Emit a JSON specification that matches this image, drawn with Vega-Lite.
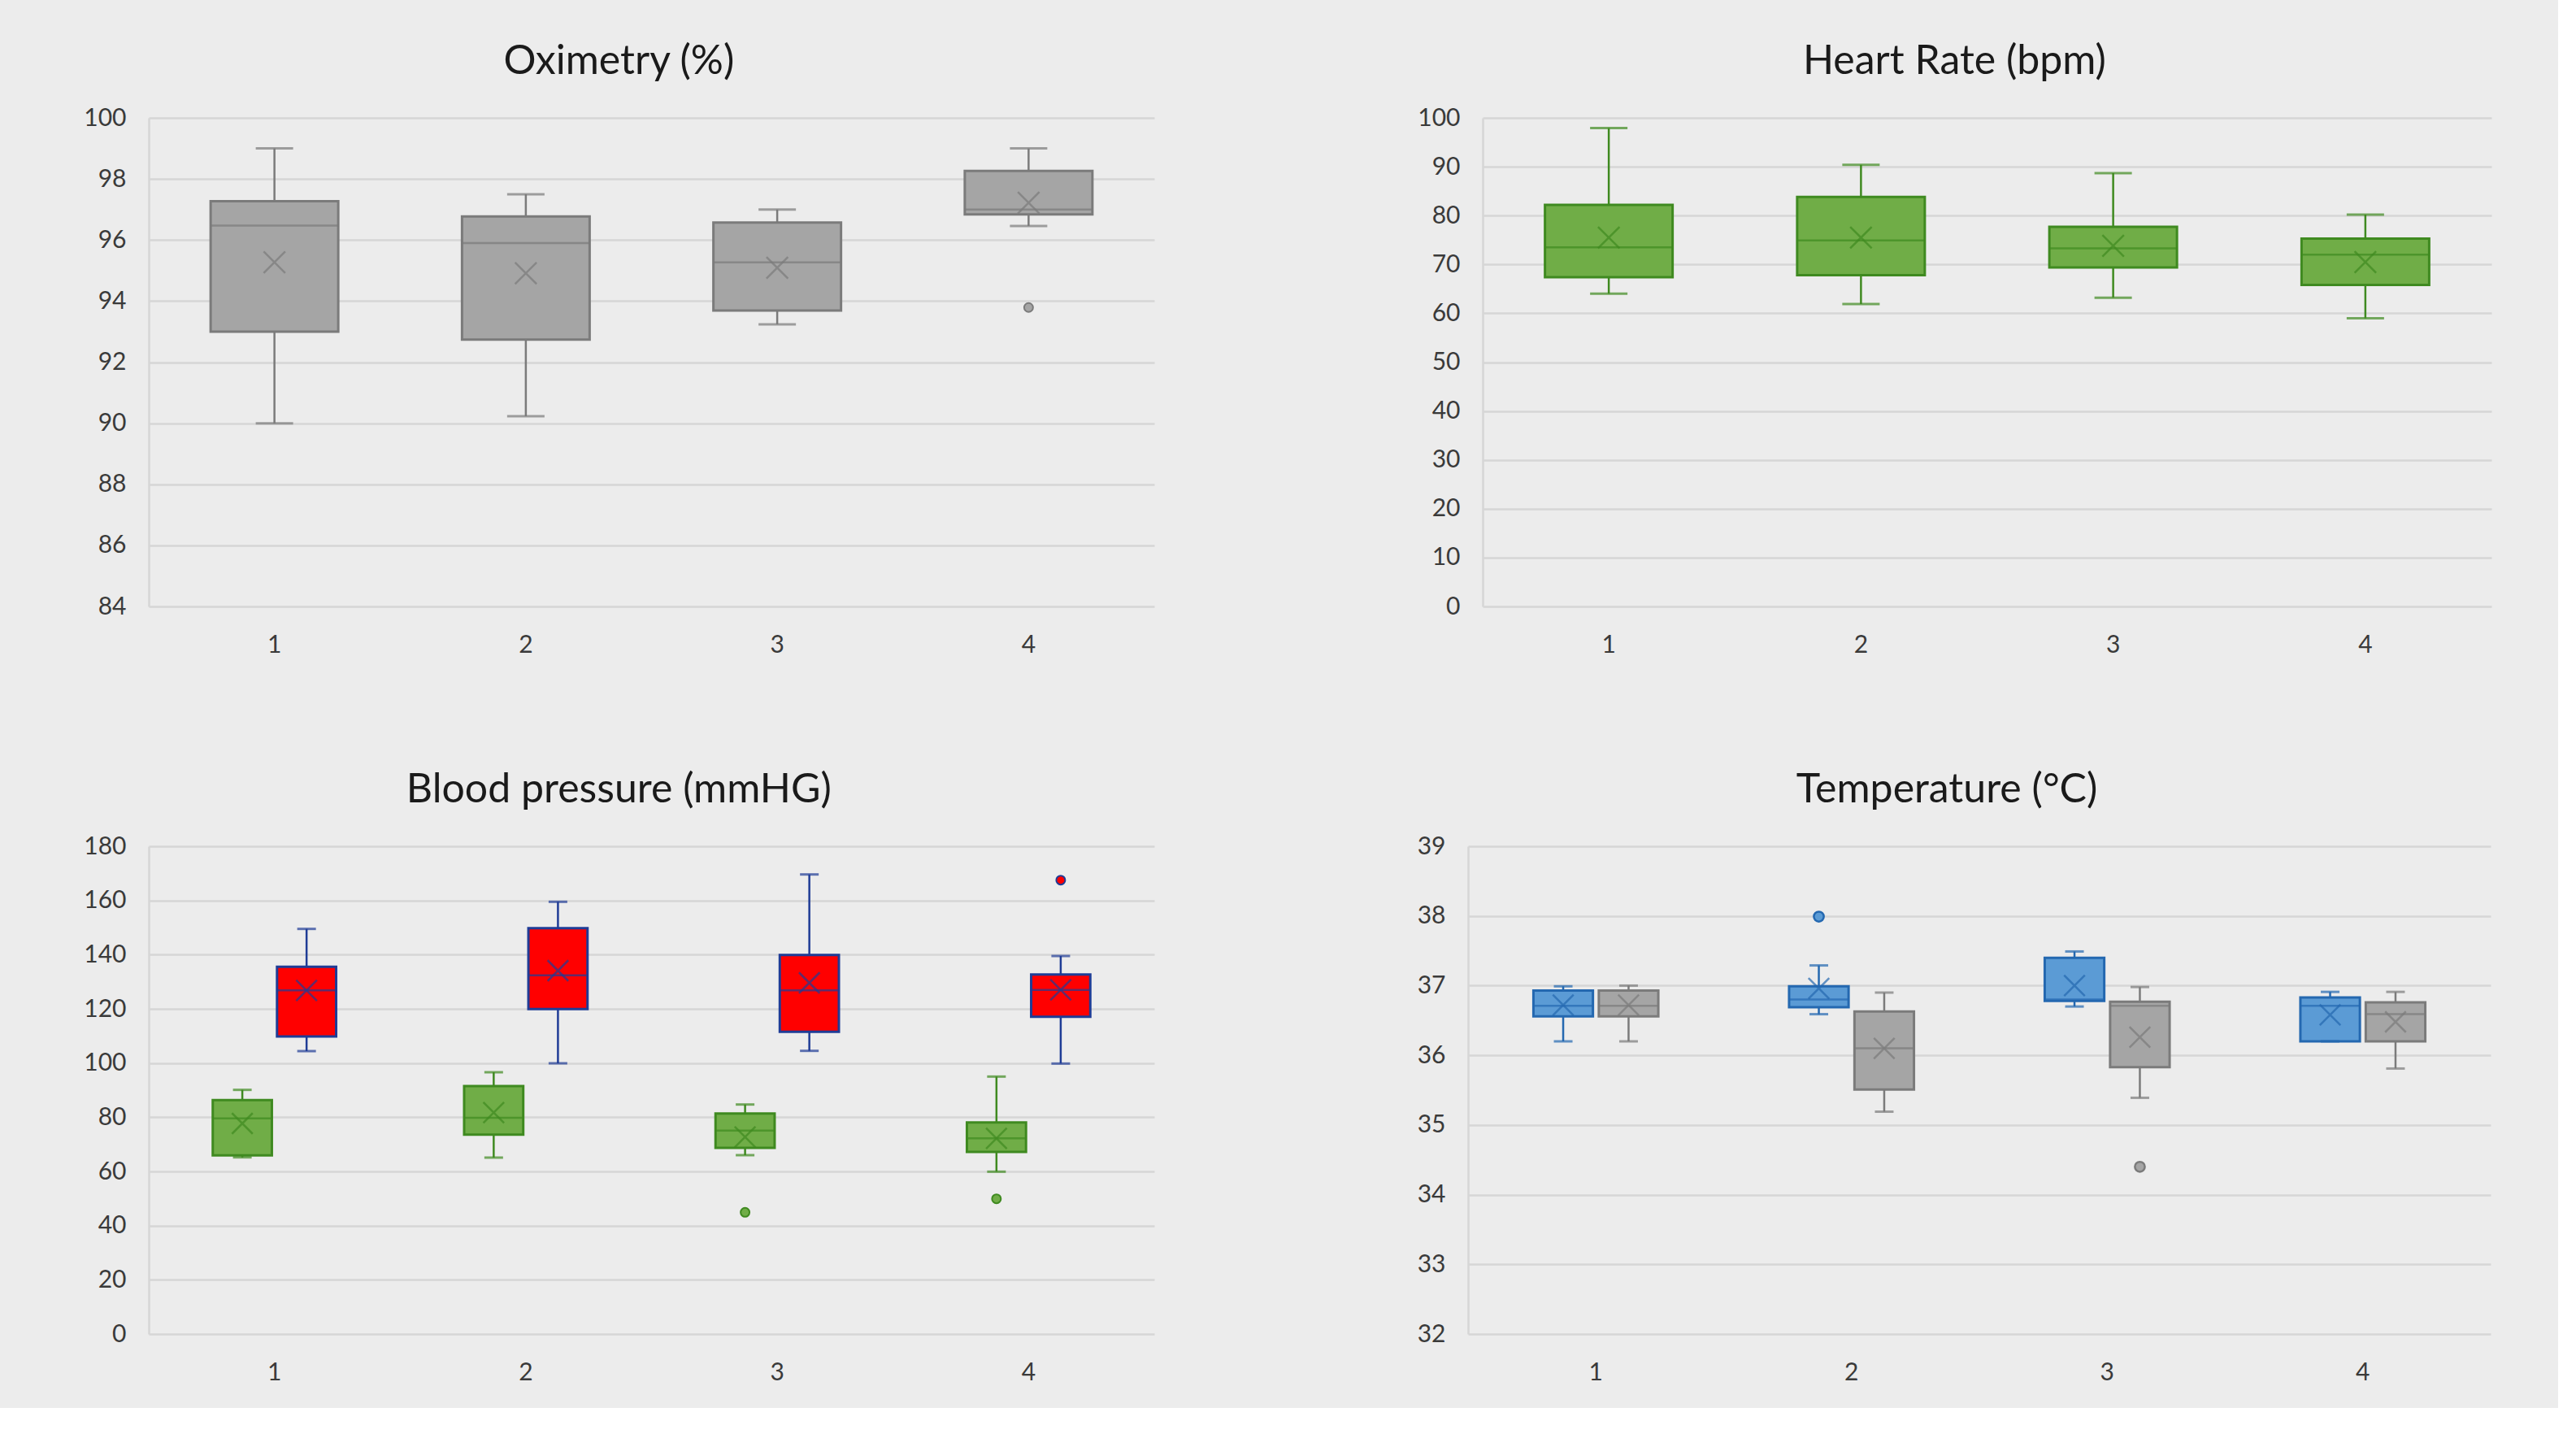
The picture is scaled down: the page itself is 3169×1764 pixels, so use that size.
{
  "$schema": "https://vega.github.io/schema/vega-lite/v6.json",
  "background": "#ececec",
  "padding": {"left": 102, "top": 51, "right": 82, "bottom": 11},
  "config": {
    "view": {"stroke": null},
    "font": "Lato",
    "axis": {"labelFont": "Lato", "labelFontSize": 30, "labelColor": "#3a3a3a", "ticks": false, "tickSize": 0, "domain": false, "gridColor": "#d6d6d6", "gridWidth": 2.5, "labelPadding": 28, "title": null},
    "axisY": {"domain": true, "domainColor": "#d6d6d6", "domainWidth": 2.5, "minExtent": 80, "maxExtent": 80, "grid": true, "format": "d"},
    "axisX": {"grid": false, "labelPadding": 32, "minExtent": 80, "maxExtent": 80, "labelAngle": 0},
    "title": {"font": "Lato", "fontSize": 50, "fontWeight": "normal", "color": "#1a1a1a", "offset": 29, "anchor": "middle", "frame": "bounds"}
  },
  "datasets": {
    "oxi": [
      {"cat": 1, "s": "oxi", "low": 90.0, "q1": 93.0, "med": 96.47, "q3": 97.27, "high": 99.0, "mean": 95.27},
      {"cat": 2, "s": "oxi", "low": 90.23, "q1": 92.74, "med": 95.9, "q3": 96.77, "high": 97.5, "mean": 94.91},
      {"cat": 3, "s": "oxi", "low": 93.24, "q1": 93.69, "med": 95.27, "q3": 96.57, "high": 97.0, "mean": 95.09},
      {"cat": 4, "s": "oxi", "low": 96.46, "q1": 96.84, "med": 97.0, "q3": 98.26, "high": 99.0, "mean": 97.22}
    ],
    "oxiOut": [
      {"cat": 4, "s": "oxi", "value": 93.79}
    ],
    "hr": [
      {"cat": 1, "s": "hr", "low": 64.0, "q1": 67.4, "med": 73.5, "q3": 82.2, "high": 97.9, "mean": 75.5},
      {"cat": 2, "s": "hr", "low": 61.9, "q1": 67.8, "med": 74.9, "q3": 83.8, "high": 90.4, "mean": 75.5},
      {"cat": 3, "s": "hr", "low": 63.2, "q1": 69.4, "med": 73.3, "q3": 77.7, "high": 88.7, "mean": 73.8},
      {"cat": 4, "s": "hr", "low": 59.0, "q1": 65.8, "med": 72.0, "q3": 75.3, "high": 80.2, "mean": 70.5}
    ],
    "bp": [
      {"cat": 1, "s": "dia", "low": 65.2, "q1": 65.9, "med": 79.6, "q3": 86.3, "high": 90.1, "mean": 77.7},
      {"cat": 1, "s": "sys", "low": 104.4, "q1": 109.8, "med": 126.8, "q3": 135.5, "high": 149.5, "mean": 126.8},
      {"cat": 2, "s": "dia", "low": 65.1, "q1": 73.6, "med": 79.8, "q3": 91.5, "high": 96.6, "mean": 81.7},
      {"cat": 2, "s": "sys", "low": 99.9, "q1": 119.9, "med": 132.4, "q3": 149.8, "high": 159.5, "mean": 134.1},
      {"cat": 3, "s": "dia", "low": 66.0, "q1": 68.7, "med": 75.1, "q3": 81.4, "high": 84.7, "mean": 72.7},
      {"cat": 3, "s": "sys", "low": 104.5, "q1": 111.5, "med": 126.8, "q3": 139.9, "high": 169.6, "mean": 129.6},
      {"cat": 4, "s": "dia", "low": 59.9, "q1": 67.2, "med": 72.2, "q3": 78.1, "high": 95.0, "mean": 72.2},
      {"cat": 4, "s": "sys", "low": 99.8, "q1": 117.1, "med": 127.0, "q3": 132.7, "high": 139.5, "mean": 127.0}
    ],
    "bpOut": [
      {"cat": 3, "s": "dia", "value": 44.9},
      {"cat": 4, "s": "dia", "value": 49.9},
      {"cat": 4, "s": "sys", "value": 167.5}
    ],
    "temp": [
      {"cat": 1, "s": "tA", "low": 36.2, "q1": 36.56, "med": 36.71, "q3": 36.93, "high": 36.99, "mean": 36.72},
      {"cat": 1, "s": "tB", "low": 36.2, "q1": 36.56, "med": 36.71, "q3": 36.93, "high": 37.0, "mean": 36.72},
      {"cat": 2, "s": "tA", "low": 36.59, "q1": 36.69, "med": 36.8, "q3": 36.99, "high": 37.29, "mean": 36.96},
      {"cat": 2, "s": "tB", "low": 35.19, "q1": 35.51, "med": 36.1, "q3": 36.63, "high": 36.9, "mean": 36.1},
      {"cat": 3, "s": "tA", "low": 36.7, "q1": 36.78, "med": 36.8, "q3": 37.4, "high": 37.49, "mean": 37.0},
      {"cat": 3, "s": "tB", "low": 35.39, "q1": 35.83, "med": 36.71, "q3": 36.77, "high": 36.98, "mean": 36.26},
      {"cat": 4, "s": "tA", "low": 36.2, "q1": 36.2, "med": 36.71, "q3": 36.83, "high": 36.91, "mean": 36.58},
      {"cat": 4, "s": "tB", "low": 35.81, "q1": 36.2, "med": 36.59, "q3": 36.76, "high": 36.91, "mean": 36.48}
    ],
    "tempOut": [
      {"cat": 2, "s": "tA", "value": 37.99},
      {"cat": 3, "s": "tB", "value": 34.4}
    ]
  },
  "vconcat": [
    {
      "spacing": 323,
      "hconcat": [
        {
          "title": "Oximetry (%)",
          "width": 1237,
          "height": 601,
          "data": {"name": "oxi"},
          "encoding": {
            "x": {"field": "cat", "type": "ordinal", "title": null, "scale": {"paddingInner": 0, "paddingOuter": 0}}
          },
          "layer": [
            {
              "mark": {"type": "rule", "strokeWidth": 2.5},
              "encoding": {
                "y": {"field": "low", "type": "quantitative", "title": null, "scale": {"domain": [84, 100], "nice": false, "zero": false}, "axis": {"values": [84, 86, 88, 90, 92, 94, 96, 98, 100]}},
                "y2": {"field": "high"},
                "color": {"field": "s", "type": "nominal", "legend": null, "scale": {"domain": ["oxi", "hr", "dia", "sys", "tA", "tB"], "range": ["#7b7b7b", "#3f8a20", "#3f8a20", "#1f3c96", "#2468b0", "#7b7b7b"]}}
              }
            },
            {
              "mark": {"type": "bar", "size": 157, "strokeWidth": 3},
              "encoding": {
                "y": {"field": "q1", "type": "quantitative", "title": null},
                "y2": {"field": "q3"},
                "fill": {"field": "s", "type": "nominal", "legend": null, "scale": {"domain": ["oxi", "hr", "dia", "sys", "tA", "tB"], "range": ["#a5a5a5", "#70ad47", "#70ad47", "#ff0000", "#5b9bd5", "#a5a5a5"]}},
                "stroke": {"field": "s", "type": "nominal", "legend": null, "scale": {"domain": ["oxi", "hr", "dia", "sys", "tA", "tB"], "range": ["#7b7b7b", "#3f8a20", "#3f8a20", "#1f3c96", "#2468b0", "#7b7b7b"]}}
              }
            },
            {
              "mark": {"type": "tick", "size": 157, "thickness": 2.5},
              "encoding": {
                "y": {"field": "med", "type": "quantitative", "title": null},
                "color": {"field": "s", "type": "nominal", "legend": null}
              }
            },
            {
              "mark": {"type": "tick", "size": 46, "thickness": 3},
              "encoding": {
                "y": {"field": "low", "type": "quantitative", "title": null},
                "color": {"field": "s", "type": "nominal", "legend": null}
              }
            },
            {
              "mark": {"type": "tick", "size": 46, "thickness": 3},
              "encoding": {
                "y": {"field": "high", "type": "quantitative", "title": null},
                "color": {"field": "s", "type": "nominal", "legend": null}
              }
            },
            {
              "mark": {"type": "point", "shape": "M-1,-1L1,1M-1,1L1,-1", "filled": false, "size": 700, "strokeWidth": 2.5},
              "encoding": {
                "y": {"field": "mean", "type": "quantitative", "title": null},
                "color": {"field": "s", "type": "nominal", "legend": null}
              }
            },
            {
              "data": {"name": "oxiOut"},
              "mark": {"type": "point", "shape": "circle", "filled": true, "size": 120, "strokeWidth": 2, "opacity": 1},
              "encoding": {
                "y": {"field": "value", "type": "quantitative", "title": null},
                "fill": {"field": "s", "type": "nominal", "legend": null},
                "stroke": {"field": "s", "type": "nominal", "legend": null}
              }
            }
          ]
        },
        {
          "title": "Heart Rate (bpm)",
          "width": 1241,
          "height": 601,
          "data": {"name": "hr"},
          "encoding": {
            "x": {"field": "cat", "type": "ordinal", "title": null, "scale": {"paddingInner": 0, "paddingOuter": 0}}
          },
          "layer": [
            {
              "mark": {"type": "rule", "strokeWidth": 2.5},
              "encoding": {
                "y": {"field": "low", "type": "quantitative", "title": null, "scale": {"domain": [0, 100], "nice": false}, "axis": {"values": [0, 10, 20, 30, 40, 50, 60, 70, 80, 90, 100]}},
                "y2": {"field": "high"},
                "color": {"field": "s", "type": "nominal", "legend": null, "scale": {"domain": ["oxi", "hr", "dia", "sys", "tA", "tB"], "range": ["#7b7b7b", "#3f8a20", "#3f8a20", "#1f3c96", "#2468b0", "#7b7b7b"]}}
              }
            },
            {
              "mark": {"type": "bar", "size": 157, "strokeWidth": 3},
              "encoding": {
                "y": {"field": "q1", "type": "quantitative", "title": null},
                "y2": {"field": "q3"},
                "fill": {"field": "s", "type": "nominal", "legend": null, "scale": {"domain": ["oxi", "hr", "dia", "sys", "tA", "tB"], "range": ["#a5a5a5", "#70ad47", "#70ad47", "#ff0000", "#5b9bd5", "#a5a5a5"]}},
                "stroke": {"field": "s", "type": "nominal", "legend": null, "scale": {"domain": ["oxi", "hr", "dia", "sys", "tA", "tB"], "range": ["#7b7b7b", "#3f8a20", "#3f8a20", "#1f3c96", "#2468b0", "#7b7b7b"]}}
              }
            },
            {
              "mark": {"type": "tick", "size": 157, "thickness": 2.5},
              "encoding": {
                "y": {"field": "med", "type": "quantitative", "title": null},
                "color": {"field": "s", "type": "nominal", "legend": null}
              }
            },
            {
              "mark": {"type": "tick", "size": 46, "thickness": 3},
              "encoding": {
                "y": {"field": "low", "type": "quantitative", "title": null},
                "color": {"field": "s", "type": "nominal", "legend": null}
              }
            },
            {
              "mark": {"type": "tick", "size": 46, "thickness": 3},
              "encoding": {
                "y": {"field": "high", "type": "quantitative", "title": null},
                "color": {"field": "s", "type": "nominal", "legend": null}
              }
            },
            {
              "mark": {"type": "point", "shape": "M-1,-1L1,1M-1,1L1,-1", "filled": false, "size": 700, "strokeWidth": 2.5},
              "encoding": {
                "y": {"field": "mean", "type": "quantitative", "title": null},
                "color": {"field": "s", "type": "nominal", "legend": null}
              }
            }
          ]
        }
      ]
    },
    {
      "spacing": 306,
      "resolve": {"scale": {"xOffset": "independent"}},
      "hconcat": [
        {
          "title": "Blood pressure (mmHG)",
          "width": 1237,
          "height": 600,
          "data": {"name": "bp"},
          "encoding": {
            "x": {"field": "cat", "type": "ordinal", "title": null, "scale": {"paddingInner": 0, "paddingOuter": 0}},
            "xOffset": {"field": "s", "type": "nominal", "scale": {"domain": ["dia", "sys"], "paddingInner": 0.08, "paddingOuter": 0.996}}
          },
          "layer": [
            {
              "mark": {"type": "rule", "strokeWidth": 2.5},
              "encoding": {
                "y": {"field": "low", "type": "quantitative", "title": null, "scale": {"domain": [0, 180], "nice": false}, "axis": {"values": [0, 20, 40, 60, 80, 100, 120, 140, 160, 180]}},
                "y2": {"field": "high"},
                "color": {"field": "s", "type": "nominal", "legend": null, "scale": {"domain": ["oxi", "hr", "dia", "sys", "tA", "tB"], "range": ["#7b7b7b", "#3f8a20", "#3f8a20", "#1f3c96", "#2468b0", "#7b7b7b"]}}
              }
            },
            {
              "mark": {"type": "bar", "strokeWidth": 3},
              "encoding": {
                "y": {"field": "q1", "type": "quantitative", "title": null},
                "y2": {"field": "q3"},
                "fill": {"field": "s", "type": "nominal", "legend": null, "scale": {"domain": ["oxi", "hr", "dia", "sys", "tA", "tB"], "range": ["#a5a5a5", "#70ad47", "#70ad47", "#ff0000", "#5b9bd5", "#a5a5a5"]}},
                "stroke": {"field": "s", "type": "nominal", "legend": null, "scale": {"domain": ["oxi", "hr", "dia", "sys", "tA", "tB"], "range": ["#7b7b7b", "#3f8a20", "#3f8a20", "#1f3c96", "#2468b0", "#7b7b7b"]}}
              }
            },
            {
              "mark": {"type": "tick", "size": 72, "thickness": 2.5},
              "encoding": {
                "y": {"field": "med", "type": "quantitative", "title": null},
                "color": {"field": "s", "type": "nominal", "legend": null}
              }
            },
            {
              "mark": {"type": "tick", "size": 23, "thickness": 3},
              "encoding": {
                "y": {"field": "low", "type": "quantitative", "title": null},
                "color": {"field": "s", "type": "nominal", "legend": null}
              }
            },
            {
              "mark": {"type": "tick", "size": 23, "thickness": 3},
              "encoding": {
                "y": {"field": "high", "type": "quantitative", "title": null},
                "color": {"field": "s", "type": "nominal", "legend": null}
              }
            },
            {
              "mark": {"type": "point", "shape": "M-1,-1L1,1M-1,1L1,-1", "filled": false, "size": 650, "strokeWidth": 2.5},
              "encoding": {
                "y": {"field": "mean", "type": "quantitative", "title": null},
                "color": {"field": "s", "type": "nominal", "legend": null}
              }
            },
            {
              "data": {"name": "bpOut"},
              "mark": {"type": "point", "shape": "circle", "filled": true, "size": 120, "strokeWidth": 2, "opacity": 1},
              "encoding": {
                "y": {"field": "value", "type": "quantitative", "title": null},
                "fill": {"field": "s", "type": "nominal", "legend": null},
                "stroke": {"field": "s", "type": "nominal", "legend": null}
              }
            }
          ]
        },
        {
          "title": "Temperature (°C)",
          "width": 1258,
          "height": 600,
          "data": {"name": "temp"},
          "encoding": {
            "x": {"field": "cat", "type": "ordinal", "title": null, "scale": {"paddingInner": 0, "paddingOuter": 0}},
            "xOffset": {"field": "s", "type": "nominal", "scale": {"domain": ["tA", "tB"], "paddingInner": 0.09, "paddingOuter": 1.01}}
          },
          "layer": [
            {
              "mark": {"type": "rule", "strokeWidth": 2.5},
              "encoding": {
                "y": {"field": "low", "type": "quantitative", "title": null, "scale": {"domain": [32, 39], "nice": false, "zero": false}, "axis": {"values": [32, 33, 34, 35, 36, 37, 38, 39]}},
                "y2": {"field": "high"},
                "color": {"field": "s", "type": "nominal", "legend": null, "scale": {"domain": ["oxi", "hr", "dia", "sys", "tA", "tB"], "range": ["#7b7b7b", "#3f8a20", "#3f8a20", "#1f3c96", "#2468b0", "#7b7b7b"]}}
              }
            },
            {
              "mark": {"type": "bar", "strokeWidth": 3},
              "encoding": {
                "y": {"field": "q1", "type": "quantitative", "title": null},
                "y2": {"field": "q3"},
                "fill": {"field": "s", "type": "nominal", "legend": null, "scale": {"domain": ["oxi", "hr", "dia", "sys", "tA", "tB"], "range": ["#a5a5a5", "#70ad47", "#70ad47", "#ff0000", "#5b9bd5", "#a5a5a5"]}},
                "stroke": {"field": "s", "type": "nominal", "legend": null, "scale": {"domain": ["oxi", "hr", "dia", "sys", "tA", "tB"], "range": ["#7b7b7b", "#3f8a20", "#3f8a20", "#1f3c96", "#2468b0", "#7b7b7b"]}}
              }
            },
            {
              "mark": {"type": "tick", "size": 73, "thickness": 2.5},
              "encoding": {
                "y": {"field": "med", "type": "quantitative", "title": null},
                "color": {"field": "s", "type": "nominal", "legend": null}
              }
            },
            {
              "mark": {"type": "tick", "size": 23, "thickness": 3},
              "encoding": {
                "y": {"field": "low", "type": "quantitative", "title": null},
                "color": {"field": "s", "type": "nominal", "legend": null}
              }
            },
            {
              "mark": {"type": "tick", "size": 23, "thickness": 3},
              "encoding": {
                "y": {"field": "high", "type": "quantitative", "title": null},
                "color": {"field": "s", "type": "nominal", "legend": null}
              }
            },
            {
              "mark": {"type": "point", "shape": "M-1,-1L1,1M-1,1L1,-1", "filled": false, "size": 650, "strokeWidth": 2.5},
              "encoding": {
                "y": {"field": "mean", "type": "quantitative", "title": null},
                "color": {"field": "s", "type": "nominal", "legend": null}
              }
            },
            {
              "data": {"name": "tempOut"},
              "mark": {"type": "point", "shape": "circle", "filled": true, "size": 150, "strokeWidth": 2.5, "opacity": 1},
              "encoding": {
                "y": {"field": "value", "type": "quantitative", "title": null},
                "fill": {"field": "s", "type": "nominal", "legend": null},
                "stroke": {"field": "s", "type": "nominal", "legend": null}
              }
            }
          ]
        }
      ]
    }
  ],
  "spacing": 121
}
